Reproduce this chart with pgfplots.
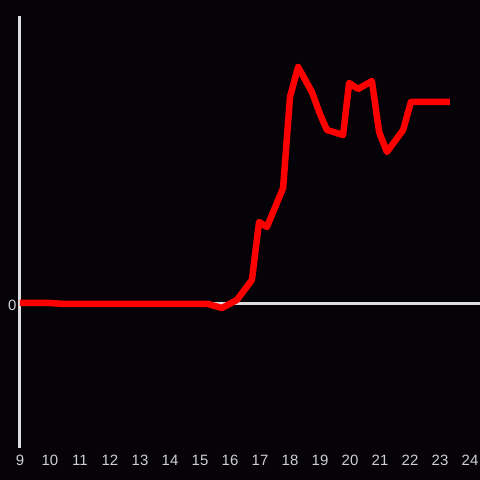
\documentclass[border=0pt]{standalone}
\usepackage{pgfplots}
\pgfplotsset{compat=1.18}
\usepackage{fontspec}
\setmainfont{Liberation Sans}
\usetikzlibrary{backgrounds}
\definecolor{bgc}{HTML}{050307}
\definecolor{axc}{HTML}{DDDDDD}
\definecolor{tkc}{HTML}{D0D0D0}

\begin{document}
\begin{tikzpicture}
\begin{axis}[
  scale only axis, width=460bp, height=432bp,
  xmin=9, xmax=24.333, ymin=-144, ymax=288,
  xtick={9,...,24}, ytick={0},
  tick style={draw=none},
  axis x line*=bottom, axis y line*=left,
  x axis line style={draw=none},
  y axis line style={axc, line width=3bp},
  ymajorgrids, major grid style={axc, line width=3bp},
  ticklabel style={font=\fontsize{15}{17}\selectfont, text=tkc},
  xticklabel style={yshift=-4bp},
  yticklabel style={xshift=0bp, yshift=-1bp},
  /pgf/number format/assume math mode=true,
  clip=false,
]
\addplot[red, line width=6.5bp, line join=round] coordinates {
(9,1)(10,1)(10.5,0)(15.27,0)(15.73,-4)(16.23,4)(16.73,24)(16.97,82)(17.23,77)
(17.77,116)(18.0,207)(18.27,237)(18.73,212)(19.0,190)(19.23,174)(19.77,169)
(19.97,221)(20.27,215)(20.73,223)(20.97,172)(21.23,152)(21.77,174)(22.03,202)(23.33,202)
};
\end{axis}
\pgfresetboundingbox
\begin{pgfonlayer}{background}
\fill[bgc] (-20bp,-32bp) rectangle (460bp,448bp);
\end{pgfonlayer}
\path (-20bp,-32bp) rectangle (460bp,448bp);
\end{tikzpicture}
\end{document}
